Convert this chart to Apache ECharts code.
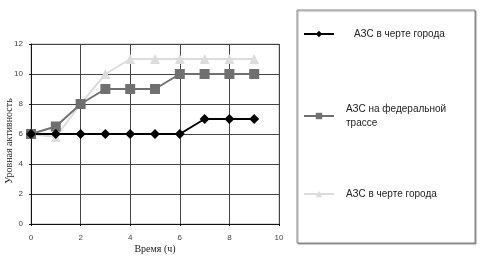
<!DOCTYPE html>
<html lang="ru">
<head>
    <meta charset="UTF-8">
    <title>Уровень активности</title>
    <script src="https://cdn.jsdelivr.net/npm/echarts@6/dist/echarts.min.js"></script>
    <style>
        html, body { margin: 0; padding: 0; background: #fff; }
        #chart { width: 486px; height: 265px; }
    </style>
</head>
<body>
    <div id="chart"></div>
    <script>
        var hours = [0, 1, 2, 3, 4, 5, 6, 7, 8, 9]
        var cityA = [6, 6, 6, 6, 6, 6, 6, 7, 7, 7]
        var federal = [6, 6.5, 8, 9, 9, 9, 10, 10, 10, 10]
        var cityB = [6, 5.8, 8, 10, 11, 11, 11, 11, 11, 11]

        var names = ['АЗС в черте города', 'АЗС на федеральной трассе', 'АЗС в черте города ']

        function pairs(vals) {
            return hours.map(function(h, i) { return [h, vals[i]] })
        }

        var chart = echarts.init(document.getElementById('chart'))

        var legendText = {
            fontFamily: 'Liberation Sans, Arial, sans-serif',
            fontSize: 10,
            color: '#222',
            padding: [0, 0, 0, 7],
            lineHeight: 14
        }

        var option = {
            animation: false,
            grid: {
                left: 31, right: 207, top: 44, bottom: 41,
                outerBoundsMode: 'none', containLabel: false,
                show: true, borderColor: '#b5b5b5', borderWidth: 1
            },
            graphic: [{
                type: 'rect',
                shape: { x: 297, y: 10, width: 178, height: 233 },
                style: {
                    fill: '#fff', stroke: '#888', lineWidth: 1,
                    shadowColor: 'rgba(0,0,0,0.35)', shadowOffsetX: 1, shadowOffsetY: 1, shadowBlur: 1
                },
                z: -1
            }],
            legend: [{
                data: [names[0]], left: 298, top: 22, itemWidth: 30, itemHeight: 8,
                textStyle: Object.assign({}, legendText, { padding: [0, 0, 0, 15] })
            }, {
                data: [names[1]], left: 298, top: 97, itemWidth: 30, itemHeight: 8,
                textStyle: legendText,
                formatter: function() { return 'АЗС на федеральной\nтрассе' }
            }, {
                data: [names[2]], left: 298, top: 182, itemWidth: 30, itemHeight: 8,
                textStyle: legendText
            }],
            xAxis: {
                type: 'value', min: 0, max: 10, interval: 2,
                name: 'Время (ч)', nameLocation: 'middle', nameGap: 20, nameMoveOverlap: false,
                nameTextStyle: { fontFamily: 'Liberation Serif, Times New Roman, serif', fontSize: 10, color: '#222' },
                axisLine: { lineStyle: { color: '#111', width: 1 } },
                axisTick: { show: true, length: 2, lineStyle: { color: '#111' } },
                axisLabel: { fontSize: 8, color: '#444', margin: 10, fontFamily: 'Liberation Sans, Arial, sans-serif' },
                splitLine: { lineStyle: { color: '#444', width: 1 } }
            },
            yAxis: {
                type: 'value', min: 0, max: 12, interval: 2,
                name: 'Уровная активность', nameLocation: 'middle', nameGap: 17, nameMoveOverlap: false,
                nameTextStyle: { fontFamily: 'Liberation Serif, Times New Roman, serif', fontSize: 10, color: '#222', padding: [0, 14, 0, 0] },
                axisLine: { show: true, lineStyle: { color: '#111', width: 1 } },
                axisTick: { show: true, length: 2, lineStyle: { color: '#111' } },
                axisLabel: { fontSize: 8, color: '#444', margin: 8, fontFamily: 'Liberation Sans, Arial, sans-serif' },
                splitLine: { lineStyle: { color: '#444', width: 1 } }
            },
            series: [{
                name: names[2], type: 'line', data: pairs(cityB),
                symbol: 'triangle', symbolSize: 10,
                itemStyle: { color: '#dcdcdc' },
                lineStyle: { color: '#dcdcdc', width: 2 }
            }, {
                name: names[1], type: 'line', data: pairs(federal),
                symbol: 'rect', symbolSize: 10,
                itemStyle: { color: '#707070' },
                lineStyle: { color: '#707070', width: 2 }
            }, {
                name: names[0], type: 'line', data: pairs(cityA),
                symbol: 'diamond', symbolSize: 10,
                itemStyle: { color: '#000' },
                lineStyle: { color: '#000', width: 2 }
            }]
        }
        chart.setOption(option)
    </script>
</body>
</html>
